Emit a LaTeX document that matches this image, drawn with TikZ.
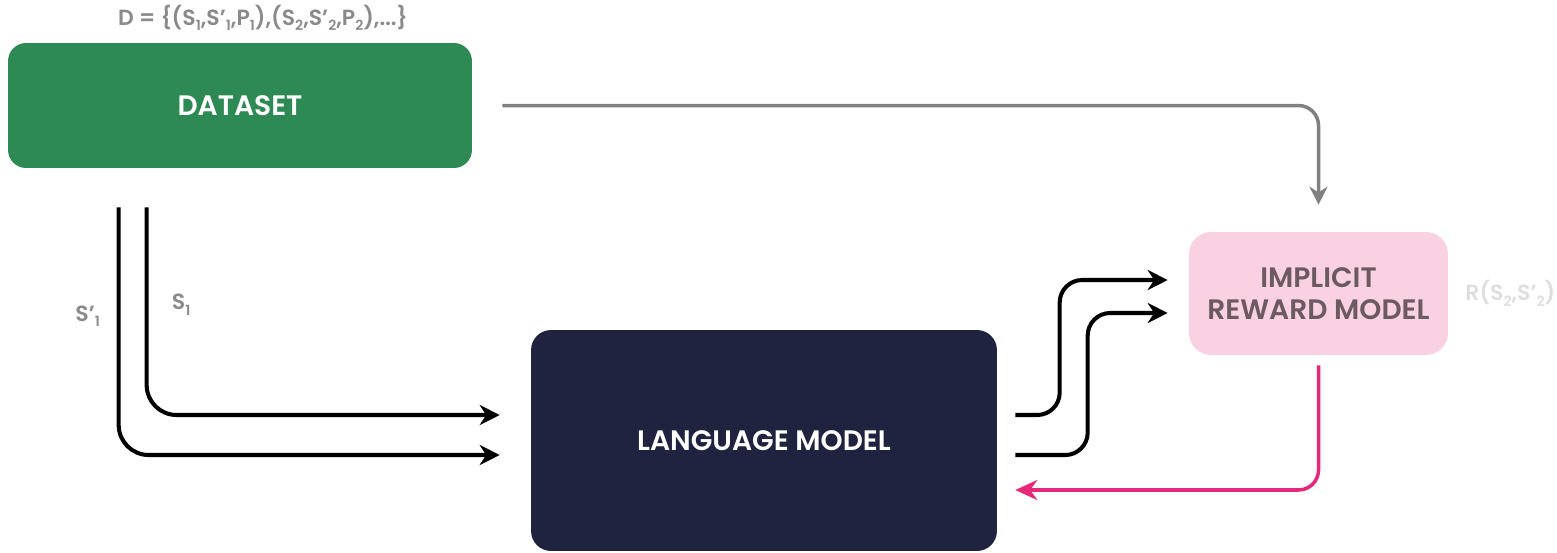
\documentclass[tikz,border=0pt]{standalone}
\usepackage{fontspec}
\setmainfont{Poppins}[BoldFont={Poppins SemiBold}]
\usetikzlibrary{arrows.meta,positioning}

\definecolor{dsgreen}{RGB}{46,138,84}
\definecolor{lmnavy}{RGB}{31,35,64}
\definecolor{rmpink}{RGB}{249,209,227}
\definecolor{rmtext}{RGB}{107,91,97}
\definecolor{lblgray}{RGB}{138,138,138}
\definecolor{faintgray}{RGB}{222,222,222}
\definecolor{fbpink}{RGB}{230,40,122}

% lowered subscript for the sequence labels
\newcommand\subn[1]{\raisebox{-0.45ex}{\fontsize{8}{8}\selectfont #1}}

\begin{document}
\begin{tikzpicture}[
    x=0.02cm, y=-0.02cm,
    box/.style={align=center, font=\fontsize{16}{18.5}\selectfont\bfseries,
                inner sep=0pt},
    data/.style={box, fill=dsgreen, text=white, rounded corners=0.36cm,
                 minimum width=9.28cm, minimum height=2.5cm},
    lang/.style={box, fill=lmnavy, text=white, rounded corners=0.4cm,
                 minimum width=9.32cm, minimum height=4.42cm},
    rew/.style={box, fill=rmpink, text=rmtext, rounded corners=0.44cm,
                minimum width=5.18cm, minimum height=2.46cm},
    lbl/.style={text=lblgray, font=\fontsize{12.5}{14}\selectfont\bfseries, inner sep=1pt},
    flow/.style={-{Stealth[length=4mm, width=4mm]}, line width=2.3pt, black},
    grayflow/.style={-{Stealth[length=3.6mm, width=3.6mm]}, line width=2pt, gray},
    fbflow/.style={-{Stealth[length=4.4mm, width=4mm]}, line width=2pt, fbpink},
  ]
    \useasboundingbox (0,0) rectangle (1557,552);

    % ---- the three blocks ----
    \node[data] (ds) at (240,105.5) {DATASET};
    \node[lang] (lm) at (764,440.5) {LANGUAGE MODEL};
    \node[rew]  (rm) at (1318.5,293.5) {IMPLICIT\\REWARD MODEL};

    \node[lbl] (dsdef) at (263,18)
        {D = \{(S\subn1,S’\subn1,P\subn1),(S\subn2,S’\subn2,P\subn2),...\}};
    \node[lbl, text=faintgray, right=3mm of rm] (rout) {R(S\subn2,S’\subn2)};

    % ---- pairs fed to the language model ----
    \coordinate (sa) at ([xshift=2.78cm, yshift=-0.78cm]ds.south west);
    \coordinate (sb) at ([xshift=2.22cm, yshift=-0.78cm]ds.south west);
    \coordinate (lma) at ([xshift=-0.62cm, yshift=0.51cm]lm.west);
    \coordinate (lmb) at ([xshift=-0.62cm, yshift=-0.29cm]lm.west);

    \draw[flow, rounded corners=0.6cm] (sa) |- node[lbl, pos=0.235, right=4.3mm] {S\subn1} (lma);
    \draw[flow, rounded corners=0.6cm] (sb) |- node[lbl, pos=0.22, left=3mm] {S’\subn1} (lmb);

    % ---- outputs to the reward model ----
    \coordinate (oa) at ([xshift=0.36cm, yshift=0.51cm]lm.east);
    \coordinate (ob) at ([xshift=0.36cm, yshift=-0.29cm]lm.east);
    \coordinate (ra) at ([xshift=-0.42cm, yshift=0.27cm]rm.west);
    \coordinate (rb) at ([xshift=-0.42cm, yshift=-0.39cm]rm.west);

    \draw[flow, rounded corners=0.45cm] (oa) -| ([xshift=-2.16cm]ra) -- (ra);
    \draw[flow, rounded corners=0.45cm] (ob) -| ([xshift=-1.6cm]rb) -- (rb);

    % ---- dataset straight to the reward model, and the feedback ----
    \draw[grayflow, rounded corners=0.4cm] ([xshift=0.6cm]ds.east) -| ([yshift=0.54cm]rm.north);
    \draw[fbflow, rounded corners=0.4cm] ([yshift=-0.2cm]rm.south) |- ([xshift=0.36cm, yshift=-0.99cm]lm.east);
  \end{tikzpicture}
\end{document}
